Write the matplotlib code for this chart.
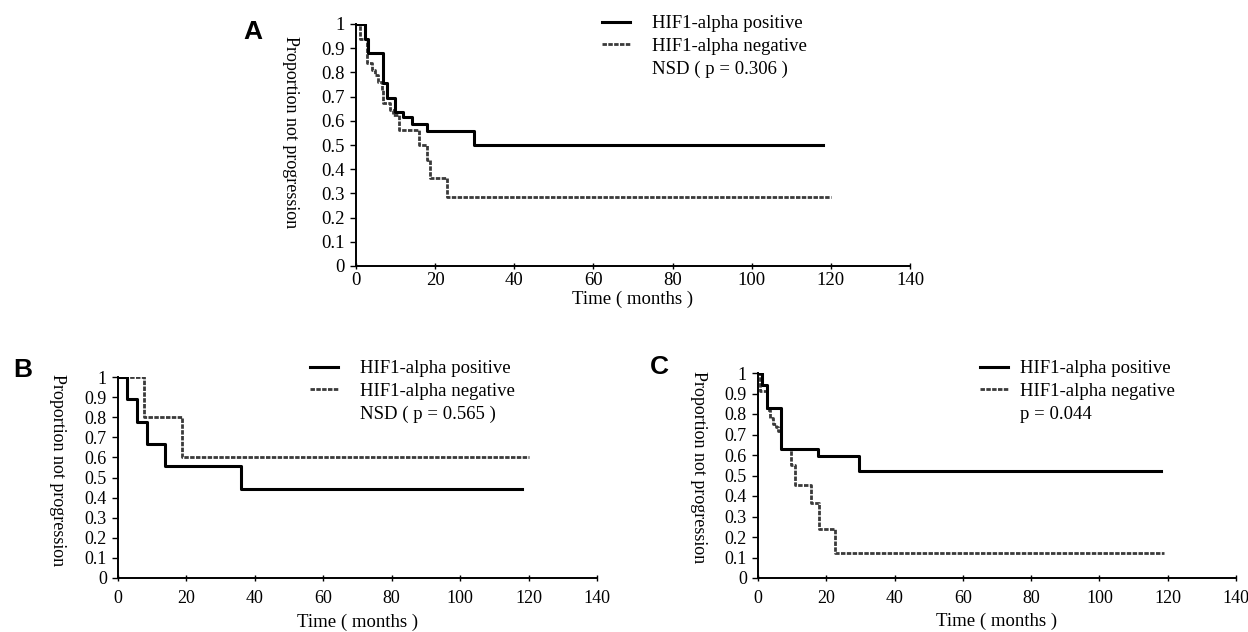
import matplotlib
matplotlib.use('Agg')
import matplotlib.pyplot as plt
from matplotlib.lines import Line2D

plt.rcParams['font.family'] = ['Liberation Serif', 'DejaVu Serif']

# Kaplan-Meier steps: start time of each step and its value
a_pos_t = [0, 2.2, 3.0, 6.9, 7.8, 9.9, 12.0, 14.1, 17.9, 29.8, 118]
a_pos_s = [1, 0.94, 0.88, 0.755, 0.693, 0.638, 0.617, 0.585, 0.558, 0.5, 0.5]
a_neg_t = [0, 0.9, 2.7, 4.0, 4.8, 5.6, 6.5, 6.9, 8.6, 9.4, 10.9, 15.8, 17.9, 18.7, 22.9, 120]
a_neg_s = [1, 0.94, 0.837, 0.81, 0.789, 0.762, 0.727, 0.672, 0.645, 0.624, 0.562, 0.5, 0.438, 0.362, 0.286, 0.286]

b_pos_t = [0, 2.6, 5.5, 8.4, 13.7, 35.9, 118]
b_pos_s = [1, 0.889, 0.778, 0.667, 0.556, 0.444, 0.444]
b_neg_t = [0, 7.6, 18.6, 120]
b_neg_s = [1, 0.8, 0.6, 0.6]

c_pos_t = [0, 1.3, 2.7, 6.8, 17.5, 29.7, 118]
c_pos_s = [1, 0.94, 0.83, 0.63, 0.594, 0.52, 0.52]
c_neg_t = [0, 0.5, 2.5, 3.4, 4.4, 5.4, 6.0, 6.8, 9.8, 10.7, 15.6, 17.8, 22.6, 119]
c_neg_s = [1, 0.91, 0.82, 0.78, 0.75, 0.735, 0.716, 0.63, 0.55, 0.455, 0.365, 0.24, 0.122, 0.122]

labels = ['HIF1-alpha positive', 'HIF1-alpha negative']
p_texts = ['NSD ( p = 0.306 )', 'NSD ( p = 0.565 )', 'p = 0.044']
letters = ['A', 'B', 'C']
xticks = [0, 20, 40, 60, 80, 100, 120, 140]
yticks = [0, 0.1, 0.2, 0.3, 0.4, 0.5, 0.6, 0.7, 0.8, 0.9, 1]
ytick_labels = ['0', '0.1', '0.2', '0.3', '0.4', '0.5', '0.6', '0.7', '0.8', '0.9', '1']

W, H = 1248, 632
fig = plt.figure(figsize=(W / 100, H / 100), dpi=100)


def fx(px):
    return px / W


def fy(py):
    return 1 - py / H


# axes boxes in pixels: left, right, y of 0, y of 1
boxes = [(356, 910, 266, 24), (118, 597, 578, 377), (758, 1236, 578, 373)]
curves = [(a_pos_t, a_pos_s, a_neg_t, a_neg_s),
          (b_pos_t, b_pos_s, b_neg_t, b_neg_s),
          (c_pos_t, c_pos_s, c_neg_t, c_neg_s)]
letter_pos = [(253, 32), (23, 370), (659, 367)]
ylabel_pos = [(290, 132), (57, 470), (698, 467)]
legend_pos = [(602, 15), (310, 360), (980, 360)]
textpad = [1.15, 1.15, 0.65]
tick_size = [13.5, 13, 13]
xtick_pad = [2, 6, 6]
xlabel_pad = [1, 5, 4]

pos_style = dict(color='black', lw=2.2)
neg_style = dict(color='#3a3a3a', lw=2.0, linestyle=(0, (1.6, 0.5)))

for i in range(3):
    l, r, y0, y1 = boxes[i]
    ax = fig.add_axes([fx(l), fy(y0), (r - l) / W, (y0 - y1) / H])
    pt, ps, nt, ns = curves[i]
    ax.step(nt, ns, where='post', **neg_style)
    ax.step(pt, ps, where='post', **pos_style)
    ax.set_xlim(0, 140)
    ax.set_ylim(0, 1)
    ax.set_xticks(xticks)
    ax.set_yticks(yticks)
    ax.set_yticklabels(ytick_labels)
    for s in ['top', 'right']:
        ax.spines[s].set_visible(False)
    for s in ['left', 'bottom']:
        ax.spines[s].set_linewidth(1.4)
    ax.tick_params(axis='y', direction='out', length=4, width=1, pad=4, labelsize=tick_size[i])
    ax.tick_params(axis='x', direction='inout', length=5, width=1, pad=xtick_pad[i],
                   labelsize=tick_size[i])
    ax.set_xlabel('Time ( months )', fontsize=13.5, labelpad=xlabel_pad[i])
    ax.patch.set_alpha(0)

    fig.text(fx(ylabel_pos[i][0]), fy(ylabel_pos[i][1]), 'Proportion not progression',
             rotation=-90, ha='center', va='center', fontsize=13)
    fig.text(fx(letter_pos[i][0]), fy(letter_pos[i][1]), letters[i], family='Liberation Sans',
             fontweight='bold', ha='center', va='center', fontsize=19)

    handles = [Line2D([], [], **pos_style), Line2D([], [], **neg_style),
               Line2D([], [], color='none')]
    fig.legend(handles, labels + [p_texts[i]], loc='upper left',
               bbox_to_anchor=(fx(legend_pos[i][0]), fy(legend_pos[i][1])),
               frameon=False, fontsize=13.5, handlelength=1.5,
               handletextpad=textpad[i], borderpad=0, borderaxespad=0,
               labelspacing=0.3)

fig.savefig('out.png', dpi=100)
